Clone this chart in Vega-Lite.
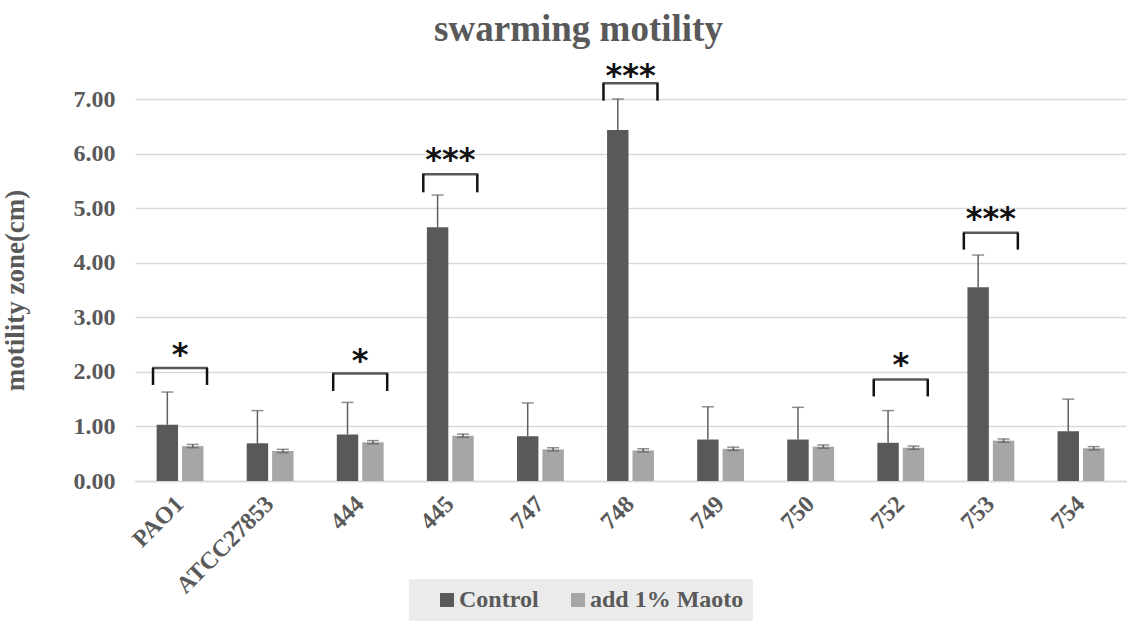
{
  "$schema": "https://vega.github.io/schema/vega-lite/v6.json",
  "width": 991,
  "height": 382,
  "autosize": {"type": "none"},
  "padding": {"left": 135, "top": 99, "right": 18, "bottom": 146},
  "background": "white",
  "title": {
    "text": "swarming motility",
    "font": "Liberation Serif",
    "fontSize": 37,
    "fontWeight": "bold",
    "color": "#595959",
    "dx": -52,
    "dy": 28,
    "baseline": "alphabetic",
    "offset": 10
  },
  "datasets": {
    "bars": [
      {"strain": "PAO1", "group": "Control", "value": 1.03, "lo": 1.03, "hi": 1.63},
      {"strain": "PAO1", "group": "add 1% Maoto", "value": 0.64, "lo": 0.61, "hi": 0.67},
      {"strain": "ATCC27853", "group": "Control", "value": 0.69, "lo": 0.69, "hi": 1.29},
      {"strain": "ATCC27853", "group": "add 1% Maoto", "value": 0.55, "lo": 0.52, "hi": 0.58},
      {"strain": "444", "group": "Control", "value": 0.85, "lo": 0.85, "hi": 1.44},
      {"strain": "444", "group": "add 1% Maoto", "value": 0.71, "lo": 0.68, "hi": 0.74},
      {"strain": "445", "group": "Control", "value": 4.65, "lo": 4.65, "hi": 5.24},
      {"strain": "445", "group": "add 1% Maoto", "value": 0.83, "lo": 0.8, "hi": 0.86},
      {"strain": "747", "group": "Control", "value": 0.82, "lo": 0.82, "hi": 1.43},
      {"strain": "747", "group": "add 1% Maoto", "value": 0.58, "lo": 0.55, "hi": 0.61},
      {"strain": "748", "group": "Control", "value": 6.43, "lo": 6.43, "hi": 7.0},
      {"strain": "748", "group": "add 1% Maoto", "value": 0.56, "lo": 0.53, "hi": 0.59},
      {"strain": "749", "group": "Control", "value": 0.76, "lo": 0.76, "hi": 1.36},
      {"strain": "749", "group": "add 1% Maoto", "value": 0.59, "lo": 0.56, "hi": 0.62},
      {"strain": "750", "group": "Control", "value": 0.76, "lo": 0.76, "hi": 1.35},
      {"strain": "750", "group": "add 1% Maoto", "value": 0.63, "lo": 0.6, "hi": 0.66},
      {"strain": "752", "group": "Control", "value": 0.7, "lo": 0.7, "hi": 1.29},
      {"strain": "752", "group": "add 1% Maoto", "value": 0.61, "lo": 0.58, "hi": 0.64},
      {"strain": "753", "group": "Control", "value": 3.55, "lo": 3.55, "hi": 4.14},
      {"strain": "753", "group": "add 1% Maoto", "value": 0.74, "lo": 0.71, "hi": 0.77},
      {"strain": "754", "group": "Control", "value": 0.91, "lo": 0.91, "hi": 1.5},
      {"strain": "754", "group": "add 1% Maoto", "value": 0.6, "lo": 0.57, "hi": 0.63}
    ],
    "sig": [
      {"strain": "PAO1", "top": 2.07, "leg": 1.76, "star": 2.45, "label": "*"},
      {"strain": "444", "top": 1.97, "leg": 1.65, "star": 2.34, "label": "*"},
      {"strain": "445", "top": 5.62, "leg": 5.29, "star": 6.02, "label": "***"},
      {"strain": "748", "top": 7.29, "leg": 6.97, "star": 7.57, "label": "***"},
      {"strain": "752", "top": 1.86, "leg": 1.55, "star": 2.27, "label": "*"},
      {"strain": "753", "top": 4.55, "leg": 4.24, "star": 4.95, "label": "***"}
    ]
  },
  "encoding": {
    "x": {
      "field": "strain",
      "type": "nominal",
      "sort": ["PAO1", "ATCC27853", "444", "445", "747", "748", "749", "750", "752", "753", "754"],
      "scale": {"paddingInner": 0.48, "paddingOuter": 0.24},
      "axis": {
        "title": null,
        "domainColor": "#d9d9d9",
        "domainWidth": 1.5,
        "ticks": false,
        "labelAngle": -45,
        "labelAlign": "right",
        "labelBaseline": "middle",
        "labelPadding": 19,
        "labelFont": "Liberation Serif",
        "labelFontWeight": "bold",
        "labelFontSize": 24,
        "labelColor": "#595959"
      }
    }
  },
  "layer": [
    {
      "data": {"name": "bars"},
      "mark": {"type": "bar"},
      "encoding": {
        "xOffset": {
          "field": "group",
          "type": "nominal",
          "sort": ["Control", "add 1% Maoto"],
          "scale": {"paddingInner": 0.157}
        },
        "y": {
          "field": "value",
          "type": "quantitative",
          "scale": {"domain": [0, 7], "nice": false},
          "axis": {
            "values": [0, 1, 2, 3, 4, 5, 6, 7],
            "format": ".2f",
            "domain": false,
            "ticks": false,
            "labelPadding": 20,
            "labelFont": "Liberation Serif",
            "labelFontWeight": "bold",
            "labelFontSize": 24,
            "labelColor": "#595959",
            "gridColor": "#d9d9d9",
            "gridWidth": 1.5,
            "title": "motility zone(cm)",
            "titleFont": "Liberation Serif",
            "titleFontWeight": "bold",
            "titleFontSize": 27,
            "titleColor": "#595959",
            "titlePadding": 44
          }
        },
        "color": {
          "field": "group",
          "type": "nominal",
          "sort": ["Control", "add 1% Maoto"],
          "scale": {"domain": ["Control", "add 1% Maoto"], "range": ["#595959", "#a6a6a6"]},
          "legend": {
            "title": null,
            "orient": "none",
            "direction": "horizontal",
            "legendX": 274,
            "legendY": 480,
            "fillColor": "#ebebeb",
            "padding": 9,
            "symbolType": "square",
            "symbolSize": 196,
            "symbolStrokeWidth": 0,
            "symbolOffset": 17,
            "labelFont": "Liberation Serif",
            "labelFontWeight": "bold",
            "labelFontSize": 24,
            "labelColor": "#595959",
            "labelOffset": 0,
            "columnPadding": 10
          }
        }
      }
    },
    {
      "data": {"name": "bars"},
      "mark": {"type": "rule", "color": "#5f5f5f", "strokeWidth": 1.5},
      "encoding": {
        "xOffset": {"field": "group", "type": "nominal", "sort": ["Control", "add 1% Maoto"]},
        "y": {"field": "lo", "type": "quantitative"},
        "y2": {"field": "hi"}
      }
    },
    {
      "data": {"name": "bars"},
      "mark": {"type": "tick", "color": "#5f5f5f", "size": 12, "thickness": 1.5},
      "encoding": {
        "xOffset": {"field": "group", "type": "nominal", "sort": ["Control", "add 1% Maoto"]},
        "y": {"field": "hi", "type": "quantitative"}
      }
    },
    {
      "data": {"name": "bars"},
      "transform": [{"filter": "datum.group === 'add 1% Maoto'"}],
      "mark": {"type": "tick", "color": "#5f5f5f", "size": 12, "thickness": 1.5},
      "encoding": {
        "xOffset": {"field": "group", "type": "nominal", "sort": ["Control", "add 1% Maoto"]},
        "y": {"field": "lo", "type": "quantitative"}
      }
    },
    {
      "data": {"name": "sig"},
      "mark": {"type": "tick", "color": "#111111", "size": 56, "thickness": 2.5},
      "encoding": {
        "y": {"field": "top", "type": "quantitative"}
      }
    },
    {
      "data": {"name": "sig"},
      "mark": {"type": "rule", "color": "#111111", "strokeWidth": 2.5},
      "encoding": {
        "xOffset": {"value": -3.6},
        "y": {"field": "top", "type": "quantitative"},
        "y2": {"field": "leg"}
      }
    },
    {
      "data": {"name": "sig"},
      "mark": {"type": "rule", "color": "#111111", "strokeWidth": 2.5},
      "encoding": {
        "xOffset": {"value": 50.4},
        "y": {"field": "top", "type": "quantitative"},
        "y2": {"field": "leg"}
      }
    },
    {
      "data": {"name": "sig"},
      "mark": {"type": "text", "font": "DejaVu Sans", "fontSize": 32, "fontWeight": "bold", "color": "#111111", "baseline": "middle", "dy": 8},
      "encoding": {
        "y": {"field": "star", "type": "quantitative"},
        "text": {"field": "label"}
      }
    }
  ],
  "config": {
    "view": {"stroke": null}
  }
}
